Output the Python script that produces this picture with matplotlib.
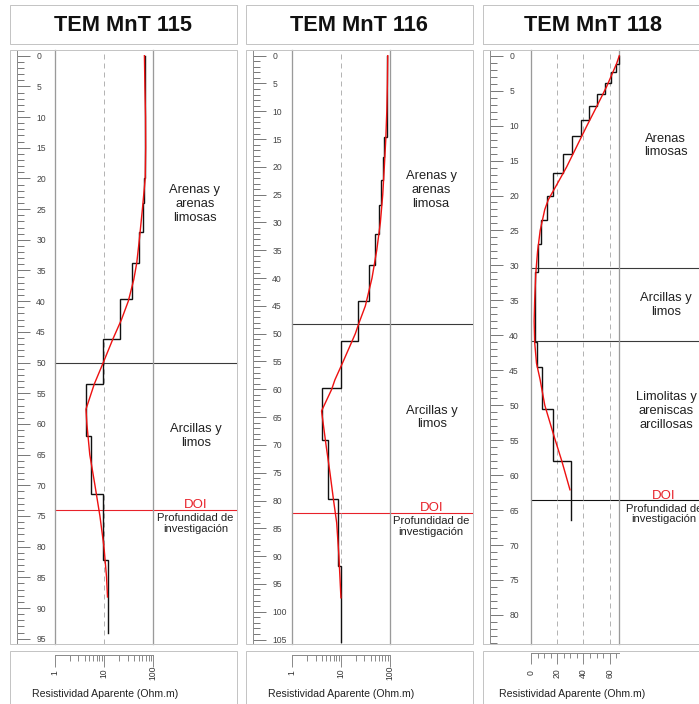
import matplotlib
matplotlib.use('Agg')
import matplotlib.pyplot as plt
from matplotlib.patches import Rectangle
from matplotlib.ticker import MultipleLocator, FixedLocator, FixedFormatter, NullFormatter
import matplotlib.transforms as mtransforms

plt.rcParams['font.family'] = ['Liberation Sans', 'DejaVu Sans']

# ---------------- data ----------------
titles = ["TEM MnT 115", "TEM MnT 116", "TEM MnT 118"]

# layered (step) models: top depth of each layer (m) and resistivity (Ohm.m)
p1_layer_top = [0, 20.0, 24.0, 28.7, 33.8, 39.7, 46.2, 53.5, 62.0, 71.4, 82.1]
p1_layer_rho = [68, 65, 60.6, 50, 36.7, 21.2, 9.7, 4.3, 5.35, 9.4, 11.7]
p1_model_bottom = 94.1
p1_smooth_depth = [0, 5, 10, 15, 20, 25, 30, 33.8, 36.5, 40, 43, 46.2, 50, 53.5, 57.6, 60, 65, 70, 75, 80, 85, 88.2]
p1_smooth_rho = [66, 67.5, 69.5, 70, 68.5, 60, 52, 46, 40, 31, 22.5, 15, 9.6, 6.3, 4.27, 4.45, 5.1, 6.5, 8.2, 9.9, 11.2, 11.7]
p1_boundaries = [50.0]
p1_doi = 74.0
p1_units = ["Arenas y\narenas\nlimosas", "Arcillas y\nlimos"]

p2_layer_top = [0, 14.6, 18.3, 22.4, 26.8, 32.0, 37.7, 44.2, 51.4, 59.8, 69.2, 79.7, 91.7]
p2_layer_rho = [88, 76.5, 72, 66.6, 58.8, 49.5, 36.7, 22.5, 9.9, 4.1, 5.4, 8.5, 9.9]
p2_model_bottom = 105.4
p2_smooth_depth = [0, 5, 10, 15, 20, 25, 30, 35, 40, 45, 48.2, 50, 55, 58.3, 60, 63.9, 70, 75, 80, 84, 90, 97.5]
p2_smooth_rho = [90, 88.5, 86, 82, 76.5, 71, 63.5, 53.5, 42.8, 31.3, 22.9, 19.5, 11.0, 7.45, 6.4, 3.97, 4.9, 5.9, 7.0, 8.1, 9.0, 9.9]
p2_boundaries = [48.2]
p2_doi = 82.2
p2_units = ["Arenas y\narenas\nlimosa", "Arcillas y\nlimos"]

p3_layer_top = [0, 1.2, 2.4, 3.9, 5.5, 7.2, 9.2, 11.5, 14.0, 16.8, 20.1, 23.5, 27.0, 31.0, 41.0, 44.5, 50.5, 58.0]
p3_layer_rho = [66.8, 64.8, 60.7, 56.1, 50.6, 44.5, 38.4, 31.5, 24.6, 17.0, 12.0, 8.0, 5.2, 3.3, 4.5, 8.2, 17.0, 30.3]
p3_model_bottom = 66.4
p3_smooth_depth = [0, 1.1, 4.4, 7.3, 10.1, 13.0, 15.9, 18.5, 20.6, 22, 25, 28, 31, 35, 38, 41, 44, 46.3, 50, 54.4, 58, 62.1]
p3_smooth_rho = [67.3, 65.3, 57.7, 50.0, 42.4, 34.8, 27.2, 19.5, 13.2, 10.5, 7.0, 5.0, 3.7, 2.8, 2.4, 2.8, 4.2, 6.9, 10.5, 17.5, 23.5, 29.7]
p3_boundaries = [30.4, 40.8]
p3_doi = 63.6
p3_units = ["Arenas\nlimosas", "Arcillas y\nlimos", "Limolitas y\nareniscas\narcillosas"]

log_tick_values = [1, 10, 100]
log_tick_labels = ["1", "10", "100"]
lin_tick_values = [0, 20, 40, 60]
lin_tick_labels = ["0", "20", "40", "60"]
x_label = "Resistividad Aparente (Ohm.m)"
doi_label = "DOI"
doi_text = "Profundidad de\ninvestigación"

# ---------------- layout (pixels) ----------------
W, H = 699, 704
fig = plt.figure(figsize=(W / 100, H / 100), dpi=100)
PT = 0.72  # points per pixel


def px_axes(x0, y0, x1, y1):
    return fig.add_axes([x0 / W, 1 - y1 / H, (x1 - x0) / W, (y1 - y0) / H])


def box(x0, y0, x1, y1):
    fig.patches.append(Rectangle((x0 / W, 1 - y1 / H), (x1 - x0) / W, (y1 - y0) / H,
                                 transform=fig.transFigure, fill=False,
                                 edgecolor='#c4c4c4', linewidth=1.0 * PT))


panels = [
    dict(title=titles[0], box=(10, 236.5), spine=17.3, plot=(55, 153.3), scale=6.137,
         tops=p1_layer_top, rho=p1_layer_rho, bottom=p1_model_bottom,
         sd=p1_smooth_depth, sr=p1_smooth_rho, bnd=p1_boundaries, doi=p1_doi, doi_color='#e8222a',
         units=p1_units, unit_pos=[(195, 204.2), (196, 435.9)], text_x=195.5,
         log=True, axis_y=655, major_len=11.7, minor_len=6, lab_pad=6, xlab_x=105),
    dict(title=titles[1], box=(246, 472.5), spine=253.3, plot=(292.3, 390), scale=5.56,
         tops=p2_layer_top, rho=p2_layer_rho, bottom=p2_model_bottom,
         sd=p2_smooth_depth, sr=p2_smooth_rho, bnd=p2_boundaries, doi=p2_doi, doi_color='#e8222a',
         units=p2_units, unit_pos=[(431, 190), (432, 417.5)], text_x=431.3,
         log=True, axis_y=655, major_len=11.7, minor_len=6, lab_pad=6, xlab_x=341),
    dict(title=titles[2], box=(483, 704), spine=490.3, plot=(531, 619.3), scale=6.99,
         tops=p3_layer_top, rho=p3_layer_rho, bottom=p3_model_bottom,
         sd=p3_smooth_depth, sr=p3_smooth_rho, bnd=p3_boundaries, doi=p3_doi, doi_color='#111111',
         units=p3_units, unit_pos=[(665.5, 145.5), (666, 305), (666, 411.3)], text_x=664,
         log=False, axis_y=652.5, major_len=10.7, minor_len=4.7, lab_pad=9.5, xlab_x=572.5),
]

TOP, BOT = 50, 644
ZERO_Y = 55.7

for p in panels:
    bx0, bx1 = p['box']
    px0, px1 = p['plot']
    sc = p['scale']
    d_top = (TOP - ZERO_Y) / sc
    d_bot = (BOT - ZERO_Y) / sc

    # frames
    box(bx0, 5, bx1, 44)
    box(bx0, TOP, bx1, BOT)
    box(bx0, 650.7, bx1, 720)

    fig.text(((bx0 + bx1) / 2 if bx1 < 700 else 593.5) / W, 1 - 31.4 / H, p['title'],
             ha='center', va='baseline', fontsize=15.7, fontweight='bold', color='#111111')

    # depth axis
    axd = px_axes(bx0 + 1, TOP, p['spine'], BOT)
    axd.set_ylim(d_bot, d_top)
    axd.patch.set_visible(False)
    for s in ['left', 'top', 'bottom']:
        axd.spines[s].set_visible(False)
    axd.spines['right'].set_color('#8c8c8c')
    axd.spines['right'].set_linewidth(1.0 * PT)
    axd.set_xticks([])
    axd.yaxis.tick_right()
    axd.yaxis.set_major_locator(MultipleLocator(5))
    axd.yaxis.set_minor_locator(MultipleLocator(1))
    axd.tick_params(axis='y', which='major', direction='out', length=12.5 * PT, width=1.0 * PT,
                    color='#7a7a7a', labelsize=6.2, labelcolor='#444444', pad=6.5 * PT)
    axd.tick_params(axis='y', which='minor', direction='out', length=6.6 * PT, width=1.0 * PT,
                    color='#7a7a7a')

    # plot area
    ax = px_axes(px0, TOP, px1, BOT)
    ax.patch.set_visible(False)
    ax.set_ylim(d_bot, d_top)
    if p['log']:
        ax.set_xscale('log')
        ax.set_xlim(1, 100)
        grid_vals = [10]
    else:
        ax.set_xlim(0, 67.3)
        grid_vals = [20, 40, 60]
    for s in ['top', 'bottom']:
        ax.spines[s].set_visible(False)
    for s in ['left', 'right']:
        ax.spines[s].set_color('#9a9a9a')
        ax.spines[s].set_linewidth(1.3 * PT)
    ax.set_xticks([])
    ax.set_yticks([])
    ax.minorticks_off()
    for g in grid_vals:
        ax.axvline(g, color='#b4b4b4', linewidth=1.0 * PT, dashes=(5, 4))

    # boundaries
    xmax_frac = (min(bx1, 704) - px0) / (px1 - px0)
    for b in p['bnd']:
        ax.axhline(b, xmin=0, xmax=xmax_frac, color='#3a3a3a', linewidth=1.1 * PT, clip_on=False)
    ax.axhline(p['doi'], xmin=0, xmax=xmax_frac, color=p['doi_color'], linewidth=1.1 * PT,
               clip_on=False, zorder=1)

    # step model
    xs, ys = [], []
    tops = p['tops']
    bots = tops[1:] + [p['bottom']]
    for r, t, b in zip(p['rho'], tops, bots):
        xs += [r, r]
        ys += [t, b]
    ax.plot(xs, ys, color='#111111', linewidth=1.4 * PT, clip_on=False, zorder=3,
            solid_joinstyle='miter')
    ax.plot(p['sr'], p['sd'], color='#ee1111', linewidth=1.4 * PT, clip_on=False, zorder=4)

    # texts
    for txt, (tx, ty) in zip(p['units'], p['unit_pos']):
        fig.text(tx / W, 1 - ty / H, txt, ha='center', va='center', fontsize=9.3,
                 color='#222222', linespacing=1.22)
    trans = mtransforms.blended_transform_factory(fig.transFigure, ax.transData)
    ax.annotate(doi_label, xy=(p['text_x'] / W, p['doi']), xycoords=trans,
                xytext=(0, 1.6 * PT), textcoords='offset points', ha='center', va='baseline',
                fontsize=9.5, color='#e8222a', annotation_clip=False)
    ax.annotate(doi_text, xy=(p['text_x'] / W, p['doi']), xycoords=trans,
                xytext=(0, -3.5 * PT), textcoords='offset points', ha='center', va='top',
                fontsize=8.1, color='#222222', linespacing=1.05, annotation_clip=False)

    # bottom resistivity axis
    axb = px_axes(px0, p['axis_y'] - 1, px1, p['axis_y'])
    axb.patch.set_visible(False)
    for s in ['left', 'right', 'top']:
        axb.spines[s].set_visible(False)
    axb.spines['bottom'].set_color('#8c8c8c')
    axb.spines['bottom'].set_linewidth(1.0 * PT)
    axb.set_yticks([])
    if p['log']:
        axb.set_xscale('log')
        axb.set_xlim(1, 100)
        axb.xaxis.set_major_locator(FixedLocator(log_tick_values))
        axb.xaxis.set_major_formatter(FixedFormatter(log_tick_labels))
        axb.xaxis.set_minor_locator(FixedLocator([m * d for d in (1, 10) for m in range(2, 10)]))
    else:
        axb.set_xlim(0, 67.3)
        axb.xaxis.set_major_locator(FixedLocator(lin_tick_values))
        axb.xaxis.set_major_formatter(FixedFormatter(lin_tick_labels))
        axb.xaxis.set_minor_locator(MultipleLocator(5))
    axb.xaxis.set_minor_formatter(NullFormatter())
    axb.tick_params(axis='x', which='major', direction='out', length=p['major_len'] * PT,
                    width=1.0 * PT, color='#8c8c8c', labelsize=6.2, labelcolor='#333333',
                    pad=p['lab_pad'] * PT, labelrotation=90)
    axb.tick_params(axis='x', which='minor', direction='out', length=p['minor_len'] * PT,
                    width=1.0 * PT, color='#8c8c8c')
    for lab in axb.get_xticklabels():
        lab.set_verticalalignment('center')
    fig.text(p['xlab_x'] / W, 1 - 694 / H, x_label, ha='center', va='center',
             fontsize=7.6, color='#222222')

fig.savefig('out.png', dpi=100)
